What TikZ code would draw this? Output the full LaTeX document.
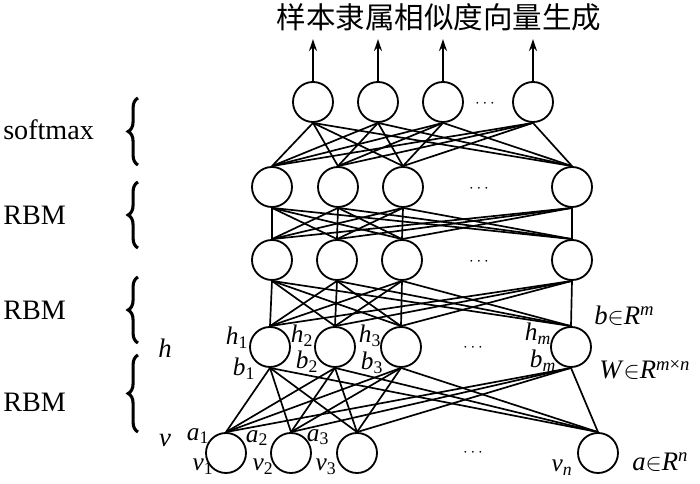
\documentclass[tikz,border=0pt]{standalone}
\usepackage{fontspec}
\setmainfont{Liberation Serif}
\newfontfamily\cjk{Noto Sans CJK SC}
\usetikzlibrary{arrows.meta,positioning,calc,decorations.pathreplacing}
\tikzset{
  unit/.style={draw, circle, line width=1.3pt, minimum size=1cm, inner sep=0pt},
  link/.style={line width=1.2pt},
  outflow/.style={line width=1.3pt, -{Stealth[length=3mm,width=2mm]}},
  lbl/.style={font=\fontsize{18}{20}\selectfont, inner sep=0pt},
  layer/.style={font=\fontsize{20}{22}\selectfont, inner sep=0pt, anchor=west},
  grp/.style={line width=2.2pt, decorate, decoration={brace, amplitude=7pt, mirror}},
  dots/.style={font=\fontsize{13}{15}\selectfont, inner sep=0pt}
}
\newcommand{\sub}[2]{\textit{#1}\textsubscript{#2}}
\begin{document}
\begin{tikzpicture}[x=0.025cm, y=-0.025cm]
  \useasboundingbox (0,0) rectangle (700,484);
  % title
  \node[font=\cjk\fontsize{21}{24}\selectfont, inner sep=0pt] (title) at (439,17) {样本隶属相似度向量生成};
  % softmax layer
  \node[unit] (s1) at (313,102) {};
  \node[unit] (s2) at (378,102) {};
  \node[unit] (s3) at (443,102) {};
  \node[unit] (s4) at (533,102) {};
  \node[dots] (sd) at (485,104) {$\cdots$};
  % upper RBM layers
  \node[unit] (u1) at (272,187) {};
  \node[unit] (u2) at (338,187) {};
  \node[unit] (u3) at (403,187) {};
  \node[unit] (u4) at (572,187) {};
  \node[dots] (ud) at (479,189) {$\cdots$};
  \node[unit] (w1) at (272,260) {};
  \node[unit] (w2) at (337,260) {};
  \node[unit] (w3) at (402,260) {};
  \node[unit] (w4) at (572,260) {};
  \node[dots] (wd) at (479,262) {$\cdots$};
  % hidden layer h
  \node[unit] (h1) at (270,347) {};
  \node[unit] (h2) at (335,347) {};
  \node[unit] (h3) at (401,347) {};
  \node[unit] (h4) at (571,347) {};
  \node[dots] (hd) at (473,348) {$\cdots$};
  % visible layer v
  \node[unit] (v1) at (226,453) {};
  \node[unit] (v2) at (291,453) {};
  \node[unit] (v3) at (357,453) {};
  \node[unit] (v4) at (598,453) {};
  \node[dots] (vd) at (473,453) {$\cdots$};

  % outputs
  \foreach \i in {1,...,4} {
    \coordinate (o\i) at ($(s\i.north)+(0,-42)$);
    \draw[outflow] (s\i.north) -- (o\i);
  }
  % full connections
  \foreach \a/\b in {s/u, u/w, w/h, h/v}
    \foreach \i in {1,...,4}
      \foreach \j in {1,...,4}
        \draw[link] (\a\i.south) -- (\b\j.north);

  % layer names
  \node[layer] (lsm)  at (3,130) {softmax};
  \node[layer] (lr1)  at (3,215) {RBM};
  \node[layer] (lr2)  at (3,310) {RBM};
  \node[layer] (lr3)  at (3,402) {RBM};
  \draw[grp] (138,98) -- (138,165);
  \draw[grp] (138,182) -- (138,248);
  \draw[grp] (138,277) -- (138,343);
  \draw[grp] (138,355) -- (138,432);
  \node[lbl, font=\fontsize{19}{21}\selectfont\itshape] (lh) at (165,348) {h};
  \node[lbl, font=\fontsize{19}{21}\selectfont\itshape] (lv) at (165,441) {v};

  % unit labels
  \node[lbl] (th1) at (237,338) {\sub{h}{1}};
  \node[lbl] (tb1) at (244,369) {\sub{b}{1}};
  \node[lbl] (th2) at (302,336) {\sub{h}{2}};
  \node[lbl] (tb2) at (307,362) {\sub{b}{2}};
  \node[lbl] (th3) at (370,336) {\sub{h}{3}};
  \node[lbl] (tb3) at (372,363) {\sub{b}{3}};
  \node[lbl] (thm) at (538,334) {\sub{h}{\textit{m}}};
  \node[lbl] (tbm) at (543,361) {\sub{b}{\textit{m}}};
  \node[lbl] (ta1) at (198,436) {\sub{a}{1}};
  \node[lbl] (tv1) at (203,467) {\sub{v}{1}};
  \node[lbl] (ta2) at (257,438) {\sub{a}{2}};
  \node[lbl] (tv2) at (263,467) {\sub{v}{2}};
  \node[lbl] (ta3) at (318,437) {\sub{a}{3}};
  \node[lbl] (tv3) at (326,467) {\sub{v}{3}};
  \node[lbl] (tvn) at (562,468) {\sub{v}{\textit{n}}};

  % parameter spaces
  \node[lbl, font=\fontsize{19}{21}\selectfont, anchor=west] (pb) at (594,316) {\textit{b}$\in$\textit{R}\textsuperscript{\textit{m}}};
  \node[lbl, font=\fontsize{19}{21}\selectfont, anchor=west] (pw) at (599,370) {\textit{W}$\in$\textit{R}\textsuperscript{\textit{m}×\textit{n}}};
  \node[lbl, font=\fontsize{19}{21}\selectfont, anchor=west] (pa) at (632,462) {\textit{a}$\in$\textit{R}\textsuperscript{\textit{n}}};
\end{tikzpicture}
\end{document}
